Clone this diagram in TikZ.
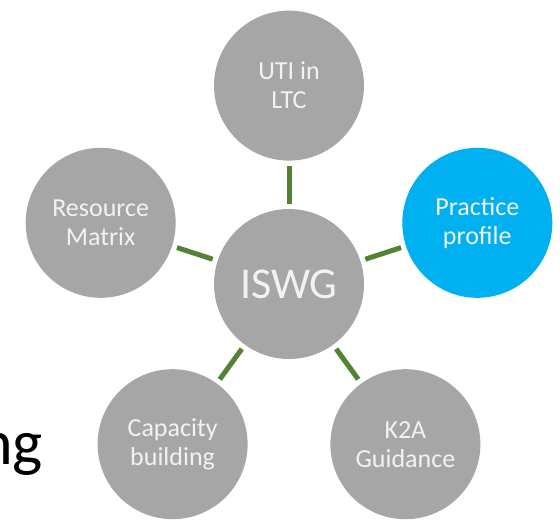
\documentclass[tikz,border=0pt]{standalone}
\usepackage{fontspec}
\setmainfont{Carlito}
\usetikzlibrary{positioning,calc}
\definecolor{bubblegray}{RGB}{166,166,166}
\definecolor{bubbleblue}{RGB}{0,176,240}
\definecolor{linkgreen}{RGB}{84,130,53}

\begin{document}
\begin{tikzpicture}[x=1pt,y=-1pt]


\tikzstyle{bubble}=[circle,fill=bubblegray,minimum size=150pt,inner sep=0pt,text=white!95!black,align=center,font=\fontsize{26}{29}\selectfont]
\tikzstyle{link}=[draw=linkgreen,line width=5pt,shorten <=5pt,shorten >=5pt]

\clip (0,0) rectangle (560,523);

% NODES
% hub
\node[bubble,font=\fontsize{44}{48}\selectfont](iswg) at (289,284){ISWG};

% spokes
\node[bubble, above=48pt of iswg](uti){UTI in\\LTC};
\node[bubble,fill=bubbleblue](prof) at ($(iswg)+(18:198pt)$){Practice\\profile};
\node[bubble](k2a) at ($(iswg)+(-54:198pt)$){K2A\\Guidance};
\node[bubble](cap) at ($(iswg)+(-126:198pt)$){Capacity\\building};
\node[bubble](res) at ($(iswg)+(162:198pt)$){Resource\\Matrix};

% cut-off text
\node[anchor=base east,inner sep=0pt,font=\fontsize{64}{70}\selectfont](ng) at (43,464){ng};

% LINKS
\draw[link](iswg) -- (uti);
\draw[link](iswg) -- (prof);
\draw[link](iswg) -- (k2a);
\draw[link](iswg) -- (cap);
\draw[link](iswg) -- (res);

\end{tikzpicture}
\end{document}
